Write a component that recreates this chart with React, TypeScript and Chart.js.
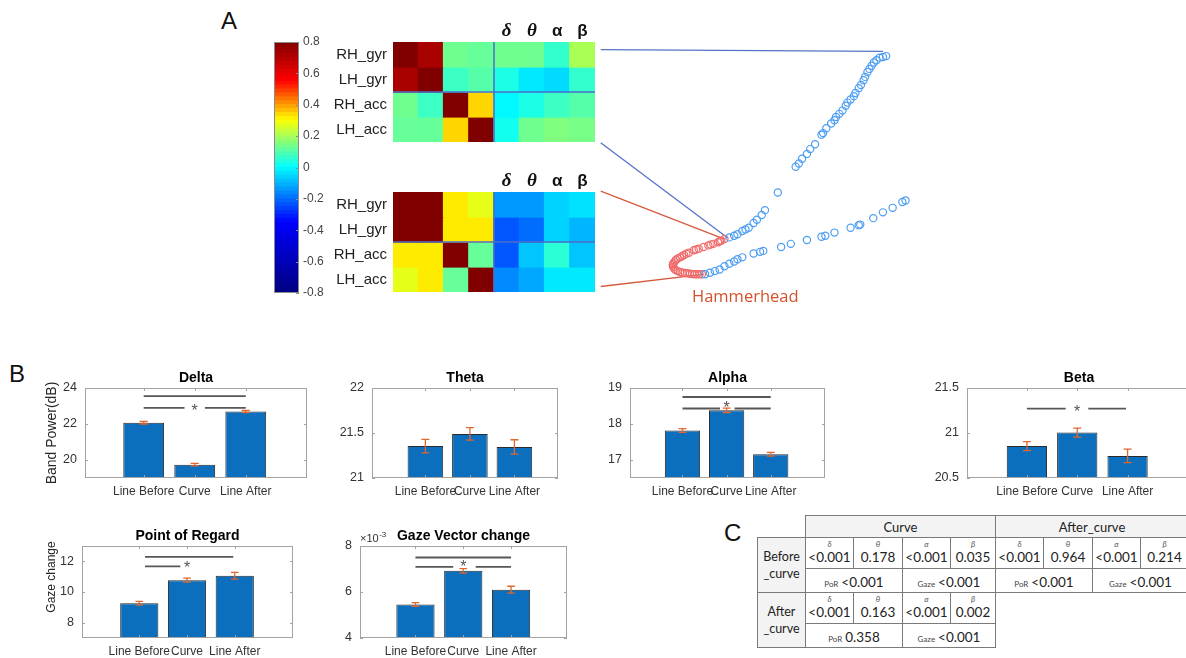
import React, { useEffect, useRef } from 'react';
import { Chart, registerables } from 'chart.js';

Chart.register(...registerables);

const FONT = '"Liberation Sans", Arial, Helvetica, sans-serif';
const TFONT = 'Lato, "Open Sans", sans-serif';

// ---------------- Panel A data ----------------
const sensorLabels = ['RH_gyr', 'LH_gyr', 'RH_acc', 'LH_acc'];
const bandLabels = ['δ', 'θ', 'α', 'β'];
const heatColumns = [...sensorLabels, ...bandLabels];

const lineCorrRH_gyr = [0.8, 0.72, 0.13, 0.12, 0.13, 0.13, 0.06, 0.2];
const lineCorrLH_gyr = [0.72, 0.8, 0.07, 0.1, 0.03, -0.03, -0.05, 0.06];
const lineCorrRH_acc = [0.13, 0.07, 0.8, 0.34, -0.01, 0.03, 0.07, 0.1];
const lineCorrLH_acc = [0.12, 0.12, 0.34, 0.8, 0.02, 0.13, 0.15, 0.14];

const hammerCorrRH_gyr = [0.8, 0.8, 0.32, 0.27, -0.14, -0.14, -0.06, -0.04];
const hammerCorrLH_gyr = [0.8, 0.8, 0.32, 0.32, -0.23, -0.2, -0.06, -0.1];
const hammerCorrRH_acc = [0.32, 0.32, 0.8, 0.12, -0.23, -0.08, 0.05, -0.08];
const hammerCorrLH_acc = [0.27, 0.32, 0.12, 0.8, -0.16, -0.12, -0.03, -0.03];

const colorbarTicks = [-0.8, -0.6, -0.4, -0.2, 0, 0.2, 0.4, 0.6, 0.8];

// trajectory (arbitrary units)
const upperBranch = [
  [300, 258.3], [296.7, 257.3], [293.3, 256.7], [290, 254], [287.3, 251.7], [285, 248.3], [282.7, 245],
  [280.7, 241.7], [278.3, 236.7], [276.7, 233.3], [274, 228.3], [271.7, 225], [268.3, 220], [266.7, 216.7],
  [263.3, 213.3], [260, 210], [258.3, 206.7], [255, 201.7], [251.7, 198.3], [248.3, 195], [246.7, 191.7],
  [243.3, 188.3], [238.3, 183.3], [235, 178.3], [233.3, 176.7], [226.7, 166.7], [221.7, 161.7],
  [218.3, 156.7], [213.3, 151.7], [210, 146.7], [206.7, 143.3], [188.3, 116.7], [175, 98.3], [171.7, 93.3],
  [166.7, 88.3], [163.3, 85], [158.3, 80], [155, 78.3], [151.7, 76.7], [146.7, 73.3], [143.3, 71.7], [138.3, 70],
];
const lowerBranch = [
  [113.3, 31.7], [118.3, 33.3], [123.3, 35], [128.3, 36.7], [133.3, 40], [138.3, 42.7], [143.3, 45],
  [146.7, 47.3], [151.7, 49.3], [163.3, 53.3], [170, 55], [173.3, 56], [191.7, 60], [201.7, 63.3],
  [218.3, 67.3], [233.3, 70.7], [237.3, 71.7], [246.7, 75], [263.3, 80], [271.7, 82.7], [273.3, 83.3],
  [286.7, 90], [296.7, 96], [306.7, 100.7], [316.7, 106.7], [320, 108.3],
];
const hammerhead = [
  [133.3, 68.3], [130, 66.7], [128.5, 66], [126.7, 65], [121.7, 63.3], [119, 62.5], [116.7, 61.7], [111.7, 60],
  [106.7, 58.3], [104, 57.5], [101.7, 56.7], [96.7, 54], [94, 53], [91.7, 51.7], [89.5, 50.5], [87.3, 49.3],
  [85, 48], [83.3, 46.7], [82, 45], [80.7, 43.3], [80.2, 42], [80, 40.7], [80.5, 39], [81.7, 37.3], [83, 36],
  [85, 35], [87.5, 34], [90, 33.3], [92.5, 33], [95, 32.7], [97.5, 32.3], [100, 32], [102.5, 31.8], [105, 31.7],
  [107.5, 31.7], [110, 31.7],
];
const linkLineTop = [[5.7, 265], [296.7, 263.3]];
const linkLineBottom = [[5.7, 168.3], [136.7, 69.3]];
const linkHammerTop = [[5.7, 118], [133.3, 68.3]];
const linkHammerBottom = [[5.7, 19], [111.7, 31.7]];

// ---------------- Panel B data ----------------
const conditions = ['Line Before', 'Curve', 'Line After'];

const deltaMeans = [22.07, 19.74, 22.69];
const deltaErr = [0.07, 0.07, 0.06];
const thetaMeans = [21.355, 21.49, 21.345];
const thetaErr = [0.075, 0.07, 0.08];
const alphaMeans = [17.82, 18.38, 17.16];
const alphaErr = [0.05, 0.06, 0.05];
const betaMeans = [20.855, 21.005, 20.745];
const betaErr = [0.05, 0.05, 0.075];
const porMeans = [9.27, 10.77, 11.06];
const porErr = [0.12, 0.13, 0.22];
const gazeMeans = [5.46e-3, 6.92e-3, 6.1e-3];
const gazeErr = [0.08e-3, 0.1e-3, 0.15e-3];

const deltaTicks = [20, 22, 24];
const thetaTicks = [21, 21.5, 22];
const alphaTicks = [17, 18, 19];
const betaTicks = [20.5, 21, 21.5];
const porTicks = [8, 10, 12];
const gazeTicks = [4e-3, 6e-3, 8e-3];

const deltaSig = [[1, 3, 23.55], [1, 1.8, 22.9], [2.2, 3, 22.9]];
const alphaSig = [[1, 3, 18.75], [1, 1.85, 18.43], [2.18, 3, 18.43]];
const betaSig = [[1, 1.77, 21.27], [2.22, 2.97, 21.27]];
const porSig = [[1.12, 2.97, 12.29], [1.12, 1.86, 11.67]];
const gazeSig = [[1, 3, 7.5e-3], [1, 1.79, 7.09e-3], [2.26, 3, 7.09e-3]];

const deltaStars = [[2, 22.95]];
const alphaStars = [[2, 18.57]];
const betaStars = [[2, 21.28]];
const porStars = [[2, 11.85]];
const gazeStars = [[2, 7.28e-3]];

// ---------------- Panel C data ----------------
const tableBands = ['δ', 'θ', 'α', 'β'];
const pBeforeVsCurve = ['<0.001', '0.178', '<0.001', '0.035'];
const pBeforeVsAfter = ['<0.001', '0.964', '<0.001', '0.214'];
const pAfterVsCurve = ['<0.001', '0.163', '<0.001', '0.002'];
const porP = ['<0.001', '<0.001', '0.358'];
const gazeP = ['<0.001', '<0.001', '<0.001'];

// ---------------- colour map ----------------
const cmapValues = [-0.8, -0.35, 0, 0.3, 0.55, 0.8];
const cmapColors = [[0, 0, 128], [0, 0, 255], [0, 255, 255], [255, 255, 0], [255, 0, 0], [128, 0, 0]];
function jet(v: number) {
  const c = Math.max(-0.8, Math.min(0.8, v));
  for (let i = 0; i < cmapValues.length - 1; i++) {
    if (c <= cmapValues[i + 1]) {
      const t = (c - cmapValues[i]) / (cmapValues[i + 1] - cmapValues[i]);
      const a = cmapColors[i], b = cmapColors[i + 1];
      return `rgb(${Math.round(a[0] + (b[0] - a[0]) * t)},${Math.round(a[1] + (b[1] - a[1]) * t)},${Math.round(a[2] + (b[2] - a[2]) * t)})`;
    }
  }
  return 'rgb(128,0,0)';
}

function zeroPad(s: any) {
  s.paddingTop = 0;
  s.paddingBottom = 0;
  s.paddingLeft = 0;
  s.paddingRight = 0;
}

// ---------------- generic canvas ----------------
function ChartCanvas({ left, top, width, height, build }: any) {
  const ref = useRef<HTMLCanvasElement>(null);
  useEffect(() => {
    const chart = new Chart(ref.current as HTMLCanvasElement, build());
    return () => chart.destroy();
  }, []);
  return (
    <canvas
      ref={ref}
      width={width}
      height={height}
      style={{ position: 'absolute', left, top, width, height }}
    />
  );
}

// ---------------- colorbar ----------------
function colorbarConfig(): any {
  const n = 64;
  const step = 1.6 / n;
  const datasets = [];
  for (let i = 0; i < n; i++) {
    const lo = -0.8 + i * step;
    datasets.push({
      data: [[lo, lo + step]],
      backgroundColor: jet(lo + step / 2),
      borderWidth: 0,
      grouped: false,
      barPercentage: 1,
      categoryPercentage: 1,
      inflateAmount: 0.6,
    });
  }
  const frame = {
    id: 'cbFrame',
    afterDatasetsDraw(chart: any) {
      const { ctx, chartArea: a, scales } = chart;
      ctx.save();
      ctx.strokeStyle = '#8c8c8c';
      ctx.lineWidth = 1;
      ctx.strokeRect(a.left + 0.5, a.top + 0.5, a.right - a.left - 1, a.bottom - a.top - 1);
      ctx.beginPath();
      for (const v of colorbarTicks) {
        const py = Math.round(scales.y.getPixelForValue(v)) + 0.5;
        ctx.moveTo(a.right - 3, py);
        ctx.lineTo(a.right, py);
      }
      ctx.stroke();
      ctx.restore();
    },
  };
  return {
    type: 'bar',
    data: { labels: ['cb'], datasets },
    options: {
      animation: false,
      responsive: false,
      layout: { padding: { top: 8, bottom: 8, left: 0, right: 0 } },
      plugins: { legend: { display: false }, tooltip: { enabled: false } },
      scales: {
        x: { display: false },
        y: {
          position: 'right',
          min: -0.8,
          max: 0.8,
          grid: { display: false, drawTicks: false },
          border: { display: false },
          afterBuildTicks: (s: any) => { s.ticks = colorbarTicks.map((v) => ({ value: v })); },
          afterFit: (s: any) => { s.width = 45; zeroPad(s); },
          ticks: {
            padding: 4,
            color: '#444',
            font: { family: FONT, size: 12 },
            callback: (v: any) => String(Math.round(v * 10) / 10),
          },
        },
      },
    },
    plugins: [frame],
  };
}

// ---------------- heatmaps ----------------
function heatConfig(rows: number[][]): any {
  const dividers = {
    id: 'heatDividers',
    afterDatasetsDraw(chart: any) {
      const { ctx, chartArea: a, scales } = chart;
      const px = (scales.x.getPixelForValue(3) + scales.x.getPixelForValue(4)) / 2;
      const py = scales.y.getPixelForValue(2);
      ctx.save();
      ctx.strokeStyle = '#4d6ec8';
      ctx.lineWidth = 1.5;
      ctx.beginPath();
      ctx.moveTo(px, a.top);
      ctx.lineTo(px, a.bottom);
      ctx.moveTo(a.left, py);
      ctx.lineTo(a.right, py);
      ctx.stroke();
      ctx.restore();
    },
  };
  return {
    type: 'bar',
    data: {
      labels: heatColumns,
      datasets: rows.map((row, k) => ({
        label: sensorLabels[k],
        data: row.map(() => 1),
        backgroundColor: row.map((v) => jet(v)),
        borderWidth: 0,
        barPercentage: 1,
        categoryPercentage: 1,
        inflateAmount: 0.6,
      })),
    },
    options: {
      animation: false,
      responsive: false,
      layout: { padding: 0 },
      plugins: { legend: { display: false }, tooltip: { enabled: false } },
      scales: {
        x: {
          position: 'top',
          stacked: true,
          grid: { display: false, drawTicks: false },
          border: { display: false },
          afterFit: (s: any) => { s.height = 24; zeroPad(s); },
          ticks: {
            padding: 0,
            autoSkip: false,
            maxRotation: 0,
            color: '#111',
            font: (c: any) =>
              c.index === 4 || c.index === 5
                ? { family: '"Liberation Serif", "DejaVu Serif", serif', size: 19, style: 'italic', weight: 'bold' }
                : { family: FONT, size: 17, weight: 'bold' },
            callback: (_v: any, i: number) => (i >= 4 ? bandLabels[i - 4] : ''),
          },
        },
        y: {
          stacked: true,
          reverse: true,
          min: 0,
          max: 4,
          grid: { display: false, drawTicks: false },
          border: { display: false },
          afterBuildTicks: (s: any) => { s.ticks = [0.5, 1.5, 2.5, 3.5].map((v) => ({ value: v })); },
          afterFit: (s: any) => { s.width = 70; zeroPad(s); },
          ticks: {
            padding: 6,
            color: '#222',
            font: { family: FONT, size: 15 },
            callback: (v: any) => sensorLabels[Math.floor(v)],
          },
        },
      },
    },
    plugins: [dividers],
  };
}

// ---------------- trajectory scatter ----------------
function scatterConfig(): any {
  const pts = (a: number[][]) => a.map(([x, y]) => ({ x, y }));
  const circle = (data: number[][], color: string) => ({
    type: 'scatter',
    data: pts(data),
    pointStyle: 'circle',
    pointRadius: 3.6,
    pointBorderWidth: 1.2,
    pointBorderColor: color,
    pointBackgroundColor: 'rgba(255,255,255,0)',
    borderColor: color,
    backgroundColor: 'rgba(0,0,0,0)',
  });
  const link = (data: number[][], color: string) => ({
    type: 'line',
    data: pts(data),
    showLine: true,
    borderColor: color,
    borderWidth: 1.3,
    pointRadius: 0,
    fill: false,
  });
  return {
    type: 'scatter',
    data: {
      datasets: [
        circle(upperBranch, '#4d9ef2'),
        circle(lowerBranch, '#4d9ef2'),
        circle(hammerhead, '#f06a6a'),
        link(linkLineTop, '#5574c9'),
        link(linkLineBottom, '#5574c9'),
        link(linkHammerTop, '#d65a3e'),
        link(linkHammerBottom, '#d65a3e'),
      ],
    },
    options: {
      animation: false,
      responsive: false,
      layout: { padding: 0 },
      plugins: { legend: { display: false }, tooltip: { enabled: false } },
      scales: {
        x: { type: 'linear', min: 0, max: 345, display: false },
        y: { type: 'linear', min: 0, max: 280, display: false },
      },
    },
  };
}

// ---------------- bar panels ----------------
const Y_AXIS_W = 40;
const X_AXIS_H = 24;
const PAD_TOP = 30;
const PAD_RIGHT = 6;

const panels = [
  { key: 'delta', title: 'Delta', ylabel: 'Band Power(dB)', ylabelSize: 14, ylabelDx: -33, ylabelDy: 0, padLeft: 30,
    box: { l: 85, t: 388, r: 307, b: 478 }, xlim: [-0.15, 4.2], ylim: [19, 24], yTicks: deltaTicks,
    means: deltaMeans, errs: deltaErr, sig: deltaSig, stars: deltaStars, fmt: (v: number) => String(v), capW: 0.08 },
  { key: 'theta', title: 'Theta', padLeft: 10,
    box: { l: 372, t: 388, r: 558, b: 478 }, xlim: [-0.2, 3.98], ylim: [21, 22], yTicks: thetaTicks,
    means: thetaMeans, errs: thetaErr, sig: [], stars: [], fmt: (v: number) => String(v), capW: 0.09 },
  { key: 'alpha', title: 'Alpha', padLeft: 10,
    box: { l: 630, t: 388, r: 825, b: 478 }, xlim: [-0.19, 4.23], ylim: [16.5, 19], yTicks: alphaTicks,
    means: alphaMeans, errs: alphaErr, sig: alphaSig, stars: alphaStars, fmt: (v: number) => String(v), capW: 0.09 },
  { key: 'beta', title: 'Beta', padLeft: 10,
    box: { l: 967, t: 388, r: 1191, b: 478 }, xlim: [-0.19, 4.26], ylim: [20.5, 21.5], yTicks: betaTicks,
    means: betaMeans, errs: betaErr, sig: betaSig, stars: betaStars, fmt: (v: number) => String(v), capW: 0.08 },
  { key: 'por', title: 'Point of Regard', ylabel: 'Gaze change', ylabelSize: 12, ylabelDx: -30, ylabelDy: -15, padLeft: 30,
    box: { l: 82, t: 546, r: 293, b: 638 }, xlim: [-0.2, 4.22], ylim: [7, 13], yTicks: porTicks,
    means: porMeans, errs: porErr, sig: porSig, stars: porStars, fmt: (v: number) => String(v), capW: 0.08 },
  { key: 'gaze', title: 'Gaze Vector change', padLeft: 10, exponent: true,
    box: { l: 360, t: 546, r: 567, b: 638 }, xlim: [-0.16, 4.17], ylim: [4e-3, 8e-3], yTicks: gazeTicks,
    means: gazeMeans, errs: gazeErr, sig: gazeSig, stars: gazeStars, fmt: (v: number) => String(Math.round(v * 1000)), capW: 0.08 },
];

function barPanelConfig(p: any): any {
  const errData: any[] = [];
  p.means.forEach((m: number, i: number) => {
    const x = i + 1, lo = m - p.errs[i], hi = m + p.errs[i], c = p.capW;
    errData.push({ x: x - c, y: lo }, { x: x + c, y: lo }, { x: x + c, y: null });
    errData.push({ x, y: lo }, { x, y: hi }, { x, y: null });
    errData.push({ x: x - c, y: hi }, { x: x + c, y: hi }, { x: x + c, y: null });
  });
  const sigData: any[] = [];
  p.sig.forEach(([x1, x2, y]: number[]) => {
    sigData.push({ x: x1, y }, { x: x2, y }, { x: x2, y: null });
  });
  const decor = {
    id: 'panelDecor',
    afterDatasetsDraw(chart: any) {
      const { ctx, chartArea: a } = chart;
      const xs = chart.scales.x, ys = chart.scales.y;
      ctx.save();
      ctx.strokeStyle = '#a3a3a3';
      ctx.lineWidth = 1;
      ctx.strokeRect(a.left + 0.5, a.top + 0.5, a.right - a.left - 1, a.bottom - a.top - 1);
      ctx.beginPath();
      for (const v of p.yTicks) {
        const py = Math.round(ys.getPixelForValue(v)) + 0.5;
        ctx.moveTo(a.left, py); ctx.lineTo(a.left + 3, py);
        ctx.moveTo(a.right - 3, py); ctx.lineTo(a.right, py);
      }
      for (const v of [1, 2, 3]) {
        const px = Math.round(xs.getPixelForValue(v)) + 0.5;
        ctx.moveTo(px, a.bottom); ctx.lineTo(px, a.bottom - 3);
        ctx.moveTo(px, a.top); ctx.lineTo(px, a.top + 3);
      }
      ctx.stroke();
      ctx.fillStyle = '#555';
      ctx.font = `16px ${FONT}`;
      ctx.textAlign = 'center';
      ctx.textBaseline = 'alphabetic';
      for (const [sx, sy] of p.stars) ctx.fillText('*', xs.getPixelForValue(sx), ys.getPixelForValue(sy) + 9.5);
      ctx.fillStyle = '#000';
      ctx.font = `bold 14px ${FONT}`;
      ctx.textBaseline = 'middle';
      ctx.fillText(p.title, (a.left + a.right) / 2, a.top - 10);
      if (p.ylabel) {
        ctx.save();
        ctx.translate(a.left + p.ylabelDx, (a.top + a.bottom) / 2 + p.ylabelDy);
        ctx.rotate(-Math.PI / 2);
        ctx.font = `${p.ylabelSize}px ${FONT}`;
        ctx.fillStyle = '#262626';
        ctx.fillText(p.ylabel, 0, 0);
        ctx.restore();
      }
      if (p.exponent) {
        ctx.textAlign = 'left';
        ctx.textBaseline = 'alphabetic';
        ctx.fillStyle = '#333';
        ctx.font = `11px ${FONT}`;
        ctx.fillText('×10', a.left, a.top - 4);
        const w = ctx.measureText('×10').width;
        ctx.font = `8px ${FONT}`;
        ctx.fillText('-3', a.left + w + 0.5, a.top - 9);
      }
      ctx.restore();
    },
  };
  return {
    type: 'bar',
    data: {
      datasets: [
        {
          type: 'line',
          data: sigData,
          borderColor: '#575757',
          borderWidth: 1.8,
          pointRadius: 0,
          spanGaps: false,
          fill: false,
        },
        {
          type: 'line',
          data: errData,
          borderColor: '#e0672f',
          borderWidth: 1.3,
          pointRadius: 0,
          spanGaps: false,
          fill: false,
        },
        {
          type: 'bar',
          data: p.means.map((m: number, i: number) => ({ x: i + 1, y: m })),
          backgroundColor: '#0b6fbe',
          borderColor: '#2a2a2a',
          borderWidth: 1,
          base: p.ylim[0],
          barPercentage: 0.8,
          categoryPercentage: 1,
        },
      ],
    },
    options: {
      animation: false,
      responsive: false,
      layout: { padding: { left: p.padLeft, top: PAD_TOP, right: PAD_RIGHT, bottom: 0 } },
      plugins: { legend: { display: false }, tooltip: { enabled: false } },
      scales: {
        x: {
          type: 'linear',
          min: p.xlim[0],
          max: p.xlim[1],
          offset: false,
          grid: { display: false, drawTicks: false },
          border: { display: false },
          afterBuildTicks: (s: any) => { s.ticks = [1, 2, 3].map((v) => ({ value: v })); },
          afterFit: (s: any) => { s.height = X_AXIS_H; zeroPad(s); },
          ticks: {
            autoSkip: false,
            maxRotation: 0,
            minRotation: 0,
            padding: 6,
            color: '#333',
            font: { family: FONT, size: 12 },
            callback: (v: any) => conditions[Math.round(v) - 1] ?? '',
          },
        },
        y: {
          min: p.ylim[0],
          max: p.ylim[1],
          grid: { display: false, drawTicks: false },
          border: { display: false },
          afterBuildTicks: (s: any) => { s.ticks = p.yTicks.map((v: number) => ({ value: v })); },
          afterFit: (s: any) => { s.width = Y_AXIS_W; zeroPad(s); },
          ticks: {
            padding: 8,
            color: '#333',
            font: { family: FONT, size: 12.5 },
            callback: (v: any) => p.fmt(v),
          },
        },
      },
    },
    plugins: [decor],
  };
}

function BarPanel({ p }: any) {
  const left = p.box.l - Y_AXIS_W - p.padLeft;
  const top = p.box.t - PAD_TOP;
  const width = p.padLeft + Y_AXIS_W + (p.box.r - p.box.l) + PAD_RIGHT;
  const height = PAD_TOP + (p.box.b - p.box.t) + X_AXIS_H;
  return <ChartCanvas left={left} top={top} width={width} height={height} build={() => barPanelConfig(p)} />;
}

// ---------------- table C ----------------
const colX = [757, 805, 853, 902, 950, 995, 1043, 1092, 1140, 1188];
const rowY = [515, 537, 568, 592, 623, 647];

function Cell({ x1, y1, x2, y2, bg, children }: any) {
  return (
    <div
      style={{
        position: 'absolute', left: x1, top: y1, width: x2 - x1 + 1, height: y2 - y1 + 1,
        border: '1px solid #7a7a7a', boxSizing: 'border-box', background: bg || '#fff',
        fontFamily: TFONT, color: '#222', display: 'flex', flexDirection: 'column',
        alignItems: 'center', justifyContent: 'center', textAlign: 'center',
      }}
    >
      {children}
    </div>
  );
}

function ValueCell({ x1, y1, x2, y2, band, value }: any) {
  return (
    <Cell x1={x1} y1={y1} x2={x2} y2={y2}>
      <div style={{ fontSize: 8, fontStyle: 'italic', color: '#555', lineHeight: '9px', marginTop: -2 }}>{band}</div>
      <div style={{ fontSize: 13.5, lineHeight: '16px' }}>{value}</div>
    </Cell>
  );
}

function StatCell({ x1, y1, x2, y2, name, value }: any) {
  return (
    <Cell x1={x1} y1={y1} x2={x2} y2={y2}>
      <div style={{ whiteSpace: 'nowrap' }}>
        <span style={{ fontSize: 8, color: '#444', marginRight: 3 }}>{name}</span>
        <span style={{ fontSize: 13.5 }}>{value}</span>
      </div>
    </Cell>
  );
}

function TableC() {
  const gray = '#f3f3f3';
  return (
    <>
      <Cell x1={colX[1]} y1={rowY[0]} x2={colX[5]} y2={rowY[1]} bg={gray}>
        <span style={{ fontSize: 13 }}>Curve</span>
      </Cell>
      <Cell x1={colX[5]} y1={rowY[0]} x2={colX[9]} y2={rowY[1]} bg={gray}>
        <span style={{ fontSize: 13 }}>After_curve</span>
      </Cell>
      <Cell x1={colX[0]} y1={rowY[1]} x2={colX[1]} y2={rowY[3]} bg={gray}>
        <span style={{ fontSize: 12.5, lineHeight: '17px' }}>Before<br />_curve</span>
      </Cell>
      {tableBands.map((b, i) => (
        <ValueCell key={'bc' + i} x1={colX[1 + i]} y1={rowY[1]} x2={colX[2 + i]} y2={rowY[2]} band={b} value={pBeforeVsCurve[i]} />
      ))}
      {tableBands.map((b, i) => (
        <ValueCell key={'ba' + i} x1={colX[5 + i]} y1={rowY[1]} x2={colX[6 + i]} y2={rowY[2]} band={b} value={pBeforeVsAfter[i]} />
      ))}
      <StatCell x1={colX[1]} y1={rowY[2]} x2={colX[3]} y2={rowY[3]} name="PoR" value={porP[0]} />
      <StatCell x1={colX[3]} y1={rowY[2]} x2={colX[5]} y2={rowY[3]} name="Gaze" value={gazeP[0]} />
      <StatCell x1={colX[5]} y1={rowY[2]} x2={colX[7]} y2={rowY[3]} name="PoR" value={porP[1]} />
      <StatCell x1={colX[7]} y1={rowY[2]} x2={colX[9]} y2={rowY[3]} name="Gaze" value={gazeP[1]} />
      <Cell x1={colX[0]} y1={rowY[3]} x2={colX[1]} y2={rowY[5]} bg={gray}>
        <span style={{ fontSize: 12.5, lineHeight: '17px' }}>After<br />_curve</span>
      </Cell>
      {tableBands.map((b, i) => (
        <ValueCell key={'ac' + i} x1={colX[1 + i]} y1={rowY[3]} x2={colX[2 + i]} y2={rowY[4]} band={b} value={pAfterVsCurve[i]} />
      ))}
      <StatCell x1={colX[1]} y1={rowY[4]} x2={colX[3]} y2={rowY[5]} name="PoR" value={porP[2]} />
      <StatCell x1={colX[3]} y1={rowY[4]} x2={colX[5]} y2={rowY[5]} name="Gaze" value={gazeP[2]} />
    </>
  );
}

const letterStyle: any = { position: 'absolute', fontFamily: FONT, fontSize: 24, color: '#111', lineHeight: '24px' };

export default function App() {
  return (
    <div style={{ position: 'fixed', left: 0, top: 0, width: 1186, height: 658, overflow: 'hidden', background: '#fff' }}>
      <div style={{ ...letterStyle, left: 221, top: 9 }}>A</div>
      <div style={{ ...letterStyle, left: 9, top: 362 }}>B</div>
      <div style={{ ...letterStyle, left: 724, top: 521 }}>C</div>

      <ChartCanvas left={274} top={34} width={70} height={267} build={colorbarConfig} />
      <ChartCanvas left={323} top={18} width={272} height={124}
        build={() => heatConfig([lineCorrRH_gyr, lineCorrLH_gyr, lineCorrRH_acc, lineCorrLH_acc])} />
      <ChartCanvas left={323} top={168} width={272} height={124}
        build={() => heatConfig([hammerCorrRH_gyr, hammerCorrLH_gyr, hammerCorrRH_acc, hammerCorrLH_acc])} />
      <ChartCanvas left={590} top={30} width={345} height={280} build={scatterConfig} />
      <div style={{ position: 'absolute', left: 692, top: 284, fontFamily: '"Open Sans", sans-serif', fontSize: 16.5, color: '#d4512c' }}>
        Hammerhead
      </div>

      {panels.map((p) => <BarPanel key={p.key} p={p} />)}

      <TableC />
    </div>
  );
}
